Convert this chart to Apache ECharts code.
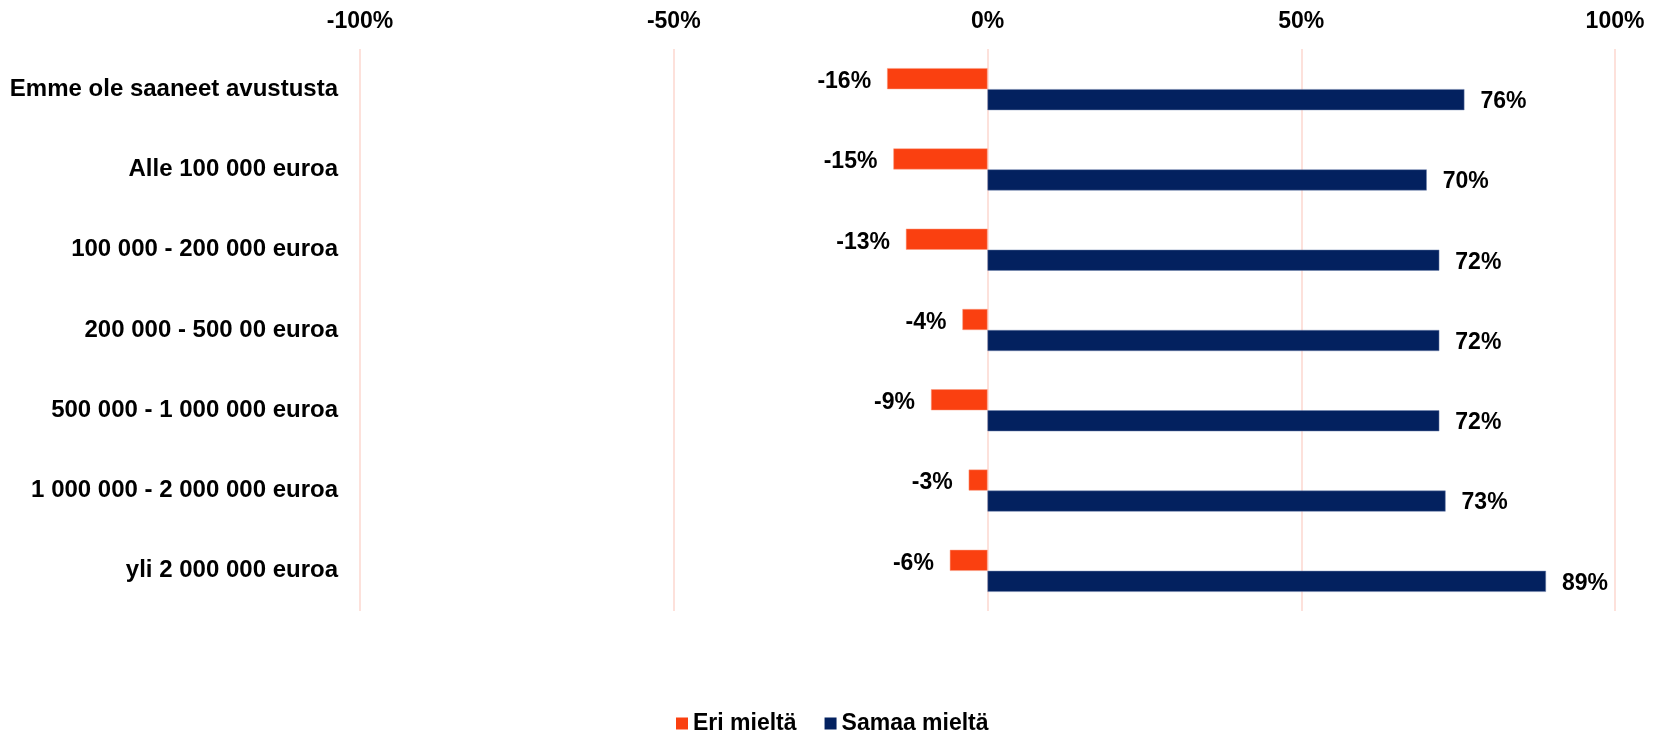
<!DOCTYPE html>
<html>
<head>
<meta charset="utf-8">
<script src="https://cdn.jsdelivr.net/npm/echarts@6/dist/echarts.min.js"></script>
<style>
html,body{margin:0;padding:0;background:#fff;}
#chart{width:1661px;height:734px;}
</style>
</head>
<body>
<div id="chart"></div>
<script>
const categories = [
  "Emme ole saaneet avustusta",
  "Alle 100 000 euroa",
  "100 000 - 200 000 euroa",
  "200 000 - 500 00 euroa",
  "500 000 - 1 000 000 euroa",
  "1 000 000 - 2 000 000 euroa",
  "yli 2 000 000 euroa"
];
const eriMielta = [-16, -15, -13, -4, -9, -3, -6];
const samaaMielta = [76, 70, 72, 72, 72, 73, 89];
const seriesNames = ["Eri mieltä", "Samaa mieltä"];

const FONT = "'Liberation Sans', Arial, sans-serif";
const chart = echarts.init(document.getElementById('chart'), null, {renderer: 'canvas'});
chart.setOption({
  animation: false,
  textStyle: {fontFamily: FONT},
  legend: {
    data: seriesNames,
    left: 676,
    top: 712,
    padding: 0,
    itemWidth: 12,
    itemHeight: 12,
    itemGap: 28,
    icon: 'rect',
    itemStyle: {borderWidth: 0},
    textStyle: {fontFamily: FONT, fontSize: 23, fontWeight: 'bold', color: '#000'}
  },
  grid: {left: 360, right: 46, top: 49, bottom: 123, containLabel: false},
  xAxis: {
    type: 'value',
    position: 'top',
    min: -100,
    max: 100,
    interval: 50,
    axisLine: {show: false},
    axisTick: {show: false},
    splitLine: {show: true, lineStyle: {color: '#FDE1DB', width: 2}},
    axisLabel: {
      formatter: v => v + '%',
      fontFamily: FONT, fontSize: 23, fontWeight: 'bold', color: '#000', margin: 16
    }
  },
  yAxis: {
    type: 'category',
    data: categories,
    inverse: true,
    axisLine: {show: false},
    axisTick: {show: false},
    splitLine: {show: false},
    axisLabel: {fontFamily: FONT, fontSize: 24, fontWeight: 'bold', color: '#000', margin: 22}
  },
  series: [
    {
      name: seriesNames[0],
      type: 'bar',
      data: eriMielta,
      barWidth: 21,
      barGap: '0%',
      itemStyle: {color: '#FA4010', borderColor: '#FB9D80', borderWidth: 0.5},
      label: {
        show: true, position: 'left', distance: 16, offset: [0, 3],
        formatter: p => p.value + '%',
        fontFamily: FONT, fontSize: 23, fontWeight: 'bold', color: '#000'
      }
    },
    {
      name: seriesNames[1],
      type: 'bar',
      data: samaaMielta,
      barWidth: 21,
      barGap: '0%',
      itemStyle: {color: '#03215F', borderColor: '#7085AE', borderWidth: 0.5},
      label: {
        show: true, position: 'right', distance: 16, offset: [0, 2],
        formatter: p => p.value + '%',
        fontFamily: FONT, fontSize: 23, fontWeight: 'bold', color: '#000'
      }
    }
  ]
});
</script>
</body>
</html>
